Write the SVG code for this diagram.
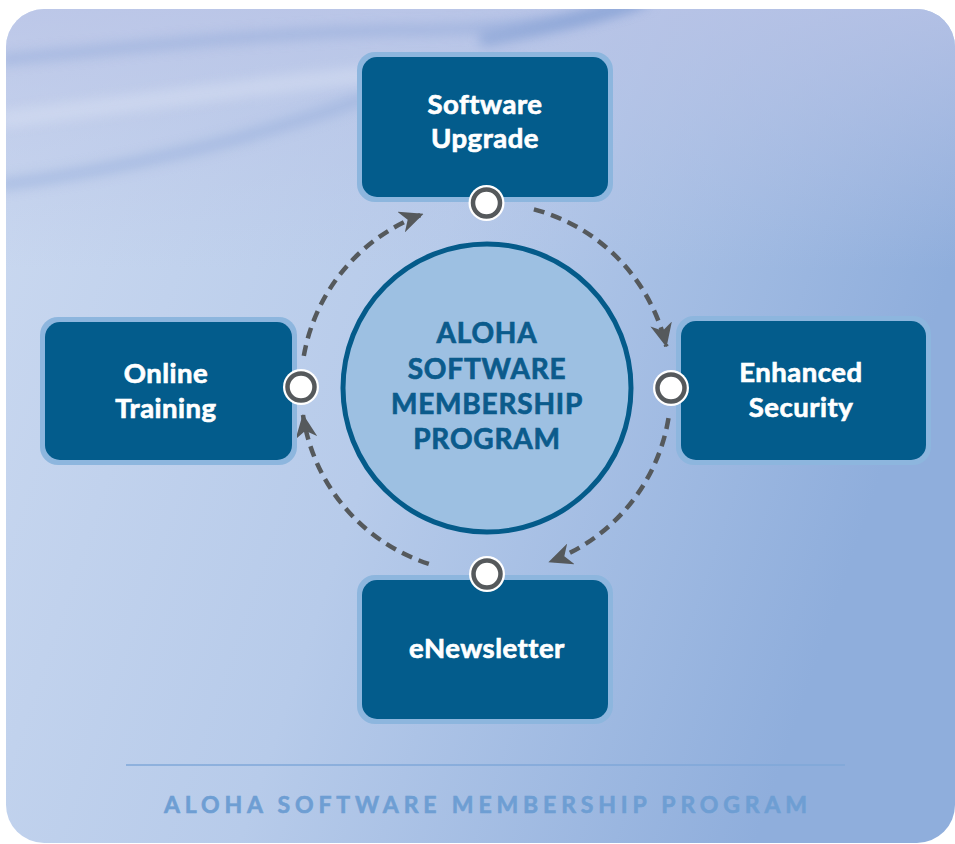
<svg xmlns="http://www.w3.org/2000/svg" width="955" height="844" viewBox="0 0 955 844">
  <defs>
    <linearGradient id="bg" x1="0" y1="0" x2="1" y2="0.3">
      <stop offset="0" stop-color="#CBD9F0"/>
      <stop offset="0.5" stop-color="#B7CBEA"/>
      <stop offset="1" stop-color="#8FAEDC"/>
    </linearGradient>
    <linearGradient id="topTint" x1="0" y1="0" x2="0" y2="1">
      <stop offset="0" stop-color="#B9C3E6" stop-opacity="0.8"/>
      <stop offset="1" stop-color="#B9C3E6" stop-opacity="0"/>
    </linearGradient>
    <filter id="blur" x="-20%" y="-50%" width="140%" height="200%">
      <feGaussianBlur stdDeviation="6"/>
    </filter>
    <clipPath id="bgClip">
      <rect x="6" y="9" width="949" height="834" rx="38" ry="38"/>
    </clipPath>
    <marker id="arrow" viewBox="0 0 24 22" refX="23" refY="11" markerWidth="24" markerHeight="22" markerUnits="userSpaceOnUse" orient="auto">
      <path d="M0,0 L24,11 L0,22 L7,11 Z" fill="#55595C"/>
    </marker>
  </defs>
  <style>
    .box-outer { fill: #8DB6DE; }
    .box-inner { fill: #035C8C; }
    .box-text { font-family: Lato, "Open Sans", sans-serif; font-weight: 700; font-size: 27.5px; fill: #FFFFFF; stroke: #FFFFFF; stroke-width: 0.7px; text-anchor: middle; letter-spacing: 0.5px; }
    .hub-text { font-family: Lato, "Open Sans", sans-serif; font-weight: 700; font-size: 28px; fill: #0B5B8C; stroke: #0B5B8C; stroke-width: 0.7px; text-anchor: middle; letter-spacing: 0.8px; }
    .arc { fill: none; stroke: #55595C; stroke-width: 4.5; stroke-dasharray: 11 7; }
    .port-out { fill: #FFFFFF; }
    .port-ring { fill: #FFFFFF; stroke: #55595C; stroke-width: 4.5; }
    .footer { font-family: Lato, "Open Sans", sans-serif; font-weight: 700; font-size: 23px; fill: #6E9ED3; stroke: #6E9ED3; stroke-width: 0.6px; }
  </style>

  <!-- background panel -->
  <g id="background">
    <rect x="6" y="9" width="949" height="834" rx="38" ry="38" fill="url(#bg)"/>
    <g clip-path="url(#bgClip)">
      <rect x="6" y="9" width="949" height="260" fill="url(#topTint)"/>
      <path d="M0,60 C150,45 300,30 420,30 C520,28 590,20 650,0" fill="none" stroke="#8FA7D8" stroke-width="10" opacity="0.55" filter="url(#blur)"/>
      <path d="M0,185 C120,170 250,140 360,100 C420,80 470,70 520,65" fill="none" stroke="#93ABDA" stroke-width="12" opacity="0.5" filter="url(#blur)"/>
      <path d="M480,40 C540,30 600,15 640,0" fill="none" stroke="#7E9BD2" stroke-width="14" opacity="0.6" filter="url(#blur)"/>
      <path d="M0,120 C160,100 300,80 420,70" fill="none" stroke="#DCE3F4" stroke-width="18" opacity="0.45" filter="url(#blur)"/>
    </g>
  </g>

  <!-- central hub -->
  <g id="hub">
    <circle cx="487" cy="388" r="144" fill="#9DC0E2" stroke="#045B8A" stroke-width="5"/>
    <text class="hub-text" x="487" y="343">ALOHA</text>
    <text class="hub-text" x="487" y="379">SOFTWARE</text>
    <text class="hub-text" x="487" y="414">MEMBERSHIP</text>
    <text class="hub-text" x="487" y="449">PROGRAM</text>
  </g>

  <!-- connectors -->
  <g id="connectors">
    <path class="arc" d="M533.9,209.3 A185,185 0 0 1 666.3,346.4" marker-end="url(#arrow)"/>
    <path class="arc" d="M668.5,418.2 A185,185 0 0 1 549.3,561.8" marker-end="url(#arrow)"/>
    <path class="arc" d="M428.8,563.9 A185,185 0 0 1 303,415" marker-end="url(#arrow)"/>
    <path class="arc" d="M303.8,355.9 A185,185 0 0 1 422.7,214.2" marker-end="url(#arrow)"/>
  </g>

  <!-- nodes -->
  <g id="node-software-upgrade">
    <rect class="box-outer" x="357" y="52" width="256" height="150" rx="18"/>
    <rect class="box-inner" x="362" y="57" width="246" height="140" rx="15"/>
    <text class="box-text" x="485" y="114">Software</text>
    <text class="box-text" x="485" y="148">Upgrade</text>
  </g>

  <g id="node-enhanced-security">
    <rect class="box-outer" x="676" y="316" width="255" height="149" rx="18"/>
    <rect class="box-inner" x="681" y="321" width="245" height="139" rx="15"/>
    <text class="box-text" x="801" y="382">Enhanced</text>
    <text class="box-text" x="801" y="417">Security</text>
  </g>

  <g id="node-enewsletter">
    <rect class="box-outer" x="357" y="575" width="256" height="149" rx="18"/>
    <rect class="box-inner" x="362" y="580" width="246" height="139" rx="15"/>
    <text class="box-text" x="487" y="658">eNewsletter</text>
  </g>

  <g id="node-online-training">
    <rect class="box-outer" x="40" y="317" width="257" height="148" rx="18"/>
    <rect class="box-inner" x="45" y="322" width="247" height="138" rx="15"/>
    <text class="box-text" x="166" y="383">Online</text>
    <text class="box-text" x="166" y="418">Training</text>
  </g>

  <!-- ports -->
  <g id="ports">
    <circle class="port-out" cx="486.5" cy="203" r="18"/>
    <circle class="port-ring" cx="486.5" cy="203" r="13.5"/>
    <circle class="port-out" cx="671" cy="388" r="18"/>
    <circle class="port-ring" cx="671" cy="388" r="13.5"/>
    <circle class="port-out" cx="487" cy="574" r="18"/>
    <circle class="port-ring" cx="487" cy="574" r="13.5"/>
    <circle class="port-out" cx="301" cy="387" r="18"/>
    <circle class="port-ring" cx="301" cy="387" r="13.5"/>
  </g>

  <!-- footer -->
  <g id="footer">
    <line x1="126" y1="765" x2="845" y2="765" stroke="#7FA7D8" stroke-width="1.5"/>
    <text class="footer" x="164" y="813" textLength="643" lengthAdjust="spacing">ALOHA SOFTWARE MEMBERSHIP PROGRAM</text>
  </g>
</svg>
